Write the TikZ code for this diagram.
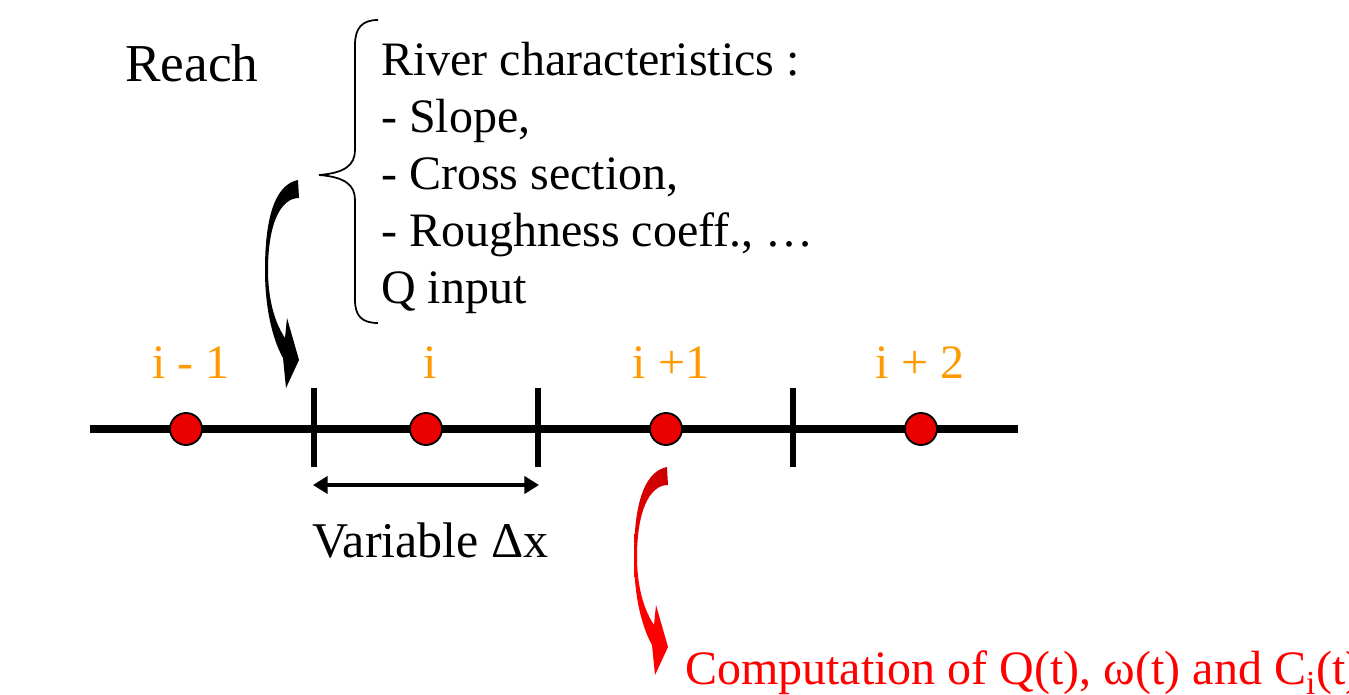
\documentclass[tikz,border=0pt]{standalone}
\usepackage{fontspec}
\setmainfont{Liberation Serif}
\usetikzlibrary{arrows.meta}
\definecolor{lblorange}{RGB}{255,153,0}
\definecolor{dotred}{RGB}{235,0,0}
\definecolor{txtred}{RGB}{255,0,0}
\definecolor{darkred}{RGB}{200,0,0}
\begin{document}
\begin{tikzpicture}[x=0.75pt,y=-0.75pt,
  txt/.style={inner sep=0pt, anchor=base west, font=\fontsize{36}{43}\selectfont},
  idx/.style={inner sep=0pt, anchor=base, text=lblorange, font=\fontsize{36}{43}\selectfont},
  dot/.style={circle, draw=black, line width=1.4pt, fill=dotred, minimum size=24pt, inner sep=0pt},
  tick/.style={line width=5.2pt},
  river/.style={line width=6pt},
  curvedarrow/.pic={
    \path[pic actions] (0,0) .. controls (-20,4) and (-33,30) .. (-33,90)
      .. controls (-33,130) and (-25,160) .. (-15,178) -- (-12,208) -- (1,180) -- (-11,138)
      -- (-13,158) .. controls (-25,140) and (-30,115) .. (-30,90)
      .. controls (-30,45) and (-18,18) .. (1,18) -- cycle;
  }]
\useasboundingbox (0,0) rectangle (1349,695);
\clip (0,0) rectangle (1349,695);

% title and characteristics
\node[txt, font=\fontsize{40}{48}\selectfont] (reach) at (125,82) {Reach};
\node[txt] (l1) at (381,76) {River characteristics :};
\node[txt] (l2) at (381,133) {- Slope,};
\node[txt] (l3) at (381,190) {- Cross section,};
\node[txt] (l4) at (381,247) {- Roughness coeff., …};
\node[txt] (l5) at (381,304) {Q input};

% brace
\draw[line width=1.3pt] (378,20) .. controls (362,20) and (355,28) .. (355,45) -- (355,150)
  .. controls (355,165) and (345,173) .. (319,175)
  .. controls (345,177) and (355,185) .. (355,200) -- (355,300)
  .. controls (355,316) and (362,323) .. (378,323);

% river line
\coordinate (rs) at (90,429);
\coordinate (re) at (1018,429);
\draw[river] (rs) -- (re);
\foreach \x/\n in {314/t1,538/t2,793/t3}{
  \coordinate (\n a) at (\x,388);
  \coordinate (\n b) at (\x,467);
  \draw[tick] (\n a) -- (\n b);
}

% nodes
\node[dot] (n1) at (186,429) {};
\node[dot] (n2) at (426,429) {};
\node[dot] (n3) at (666,429) {};
\node[dot] (n4) at (921,429) {};
\node[idx] (i1) at (191,378) {i - 1};
\node[idx] (i2) at (430,378) {i};
\node[idx] (i3) at (671,378) {i +1};
\node[idx] (i4) at (920,378) {i + 2};

% dx arrow
\coordinate (dxa) at (313,485);
\coordinate (dxb) at (539,485);
\draw[line width=2.3pt, {Triangle[length=11pt,width=13pt]}-{Triangle[length=11pt,width=13pt]}] (dxa) -- (dxb);
\node[txt, font=\fontsize{37.5}{45}\selectfont] (dx) at (312,557) {Variable Δx};

% curved arrows
\pic[fill=black] at (298,180) {curvedarrow};
\pic[top color=darkred, bottom color=txtred, middle color=txtred] at (667,467) {curvedarrow};

% computation text
\node[txt, text=txtred] (comp) at (685,684) {Computation of Q(t), ω(t) and C\textsubscript{i}(t)};
\end{tikzpicture}
\end{document}
